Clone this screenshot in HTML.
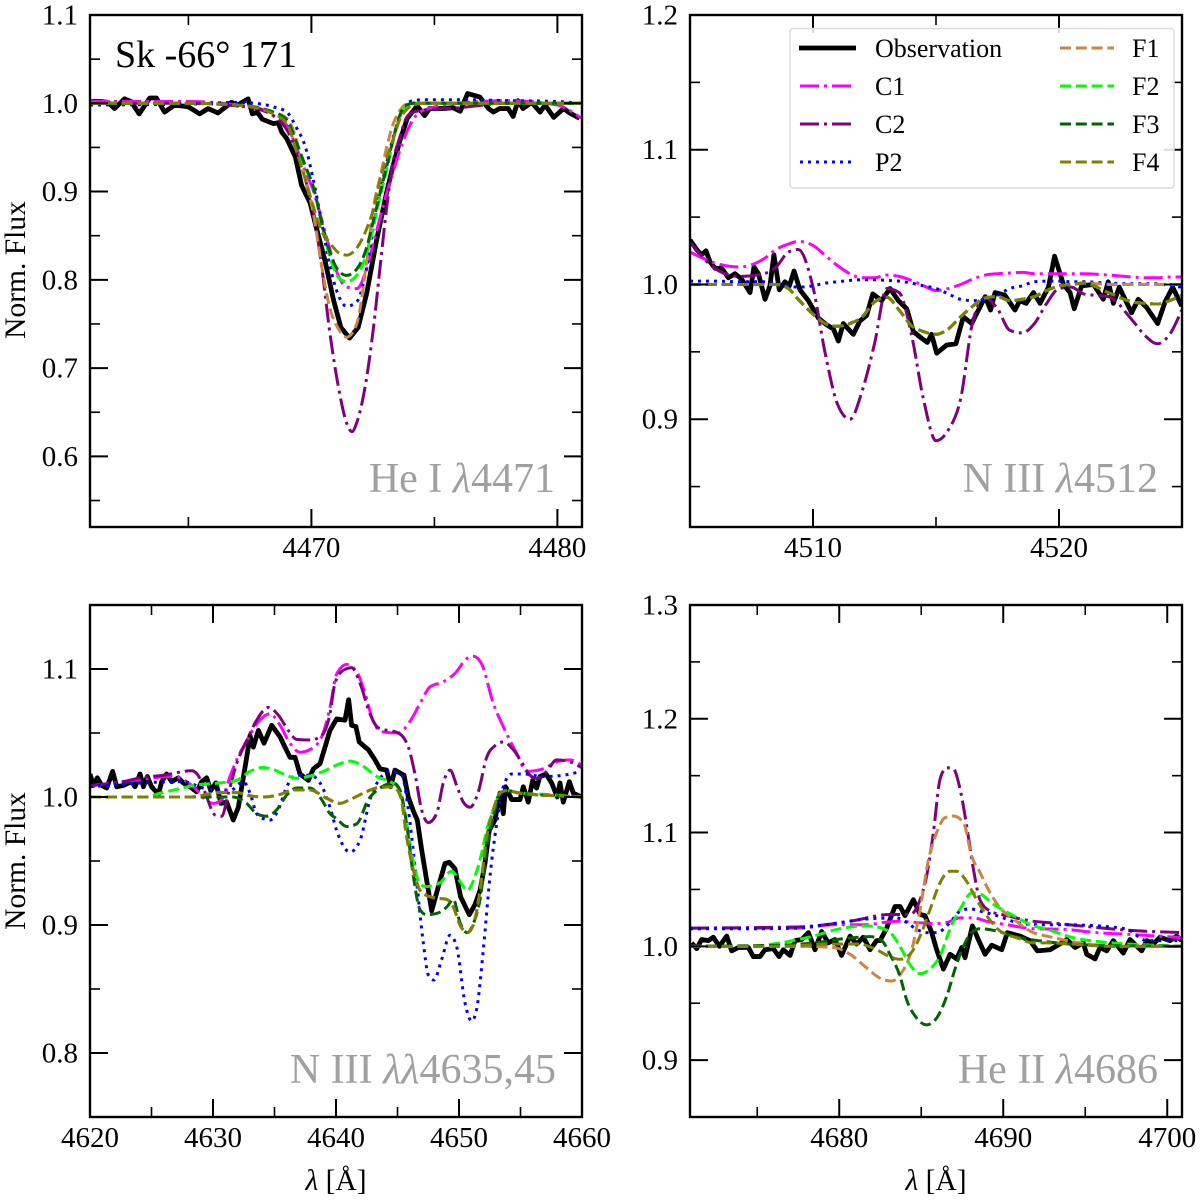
<!DOCTYPE html>
<html>
<head>
<meta charset="utf-8">
<title>Sk -66 171 line profiles</title>
<style>
html,body{margin:0;padding:0;background:#fff;}
svg{display:block;}
text{font-family:"Liberation Serif","DejaVu Serif",serif;fill:#000;}
</style>
</head>
<body>
<svg id="chart" xmlns="http://www.w3.org/2000/svg" width="1200" height="1200" viewBox="0 0 1200 1200">
<rect x="0" y="0" width="1200" height="1200" fill="#fff"/>
<defs>
<clipPath id="clip-a"><rect x="90" y="15" width="492" height="512"/></clipPath>
<clipPath id="clip-b"><rect x="690" y="15" width="492" height="512"/></clipPath>
<clipPath id="clip-c"><rect x="90" y="605" width="492" height="512"/></clipPath>
<clipPath id="clip-d"><rect x="690" y="605" width="492" height="512"/></clipPath>
</defs>
<g id="layer-panels"></g>
<text x="115" y="67" font-size="38">Sk -66° 171</text>
<text x="555" y="492" font-size="42" text-anchor="end" style="fill:#a0a0a0">He I <tspan font-style="italic" style="fill:#a0a0a0">λ</tspan>4471</text>
<text x="1158" y="492" font-size="42" text-anchor="end" style="fill:#a0a0a0">N III <tspan font-style="italic" style="fill:#a0a0a0">λ</tspan>4512</text>
<text x="556" y="1083" font-size="42" text-anchor="end" style="fill:#a0a0a0">N III <tspan font-style="italic" style="fill:#a0a0a0">λλ</tspan>4635,45</text>
<text x="1158" y="1083" font-size="42" text-anchor="end" style="fill:#a0a0a0">He II <tspan font-style="italic" style="fill:#a0a0a0">λ</tspan>4686</text>
<text transform="translate(25,270) rotate(-90)" font-size="29.5" text-anchor="middle">Norm. Flux</text>
<text transform="translate(25,861) rotate(-90)" font-size="29.5" text-anchor="middle">Norm. Flux</text>
<text x="336" y="1190" font-size="29.5" text-anchor="middle"><tspan font-style="italic">λ</tspan> [Å]</text>
<text x="936" y="1190" font-size="29.5" text-anchor="middle"><tspan font-style="italic">λ</tspan> [Å]</text>
<g>
<rect x="790" y="28.5" width="384" height="159.5" rx="3" fill="#fff" fill-opacity="0.85" stroke="#dcdcdc" stroke-width="1.5"/>
<g><line x1="799" x2="856" y1="48" y2="48" stroke="#000" stroke-width="4.8"/><text x="875" y="57" font-size="26">Observation</text></g>
<g><line x1="800" x2="854" y1="86" y2="86" stroke="#ff00ff" stroke-width="3" stroke-dasharray="19 5 3 5"/><text x="875" y="95" font-size="26">C1</text></g>
<g><line x1="800" x2="854" y1="124" y2="124" stroke="#800080" stroke-width="3" stroke-dasharray="19 5 3 5"/><text x="875" y="133" font-size="26">C2</text></g>
<g><line x1="800" x2="854" y1="162" y2="162" stroke="#0000ff" stroke-width="3" stroke-dasharray="3 5"/><text x="875" y="171" font-size="26">P2</text></g>
<g><line x1="1060" x2="1114" y1="48" y2="48" stroke="#cd853f" stroke-width="3" stroke-dasharray="11 4.8"/><text x="1132" y="57" font-size="26">F1</text></g>
<g><line x1="1060" x2="1114" y1="86" y2="86" stroke="#00ff00" stroke-width="3" stroke-dasharray="11 4.8"/><text x="1132" y="95" font-size="26">F2</text></g>
<g><line x1="1060" x2="1114" y1="124" y2="124" stroke="#006400" stroke-width="3" stroke-dasharray="11 4.8"/><text x="1132" y="133" font-size="26">F3</text></g>
<g><line x1="1060" x2="1114" y1="162" y2="162" stroke="#808000" stroke-width="3" stroke-dasharray="11 4.8"/><text x="1132" y="171" font-size="26">F4</text></g>
</g>
</svg>
<script>
// ---------- Panel A: He I 4471 ----------
const heiObsWave = [4461.05,4461.45,4461.73,4462.0,4462.4,4462.67,4463.0,4463.43,4463.7,4464.03,4464.44,4465.0,4465.46,4465.8,4466.2,4466.75,4467.0,4467.43,4467.6,4467.8,4468.0,4468.45,4468.65,4468.8,4469.0,4469.35,4469.6,4469.95,4470.2,4470.55,4470.9,4471.2,4471.55,4471.9,4472.25,4472.65,4473.05,4473.3,4473.6,4473.9,4474.3,4474.6,4474.8,4475.35,4475.75,4476.05,4476.35,4476.85,4477.2,4477.4,4477.65,4478.0,4478.2,4478.4,4478.6,4478.95,4479.3,4479.5,4479.85,4480.25,4480.5,4480.9];
const heiObsFlux = [1.002,1.002,1.001,0.994,1.005,1.002,0.988,1.006,1.006,0.990,0.998,0.996,0.988,0.994,0.989,1.001,0.998,1.005,0.988,0.990,0.982,0.977,0.978,0.967,0.960,0.939,0.907,0.887,0.859,0.822,0.777,0.746,0.734,0.746,0.785,0.845,0.898,0.927,0.958,0.983,0.997,0.986,0.994,0.994,0.995,0.991,1.011,1.007,0.994,0.990,0.994,0.994,0.985,1.003,0.994,1.001,0.990,0.998,0.984,0.994,0.989,0.983];
const heiModelWave = [4461,4465,4467,4468,4468.45,4469,4469.4,4469.74,4470.08,4470.42,4470.75,4471.09,4471.43,4471.84,4472.25,4472.52,4472.79,4473.06,4473.33,4473.6,4473.87,4474.14,4474.55,4476,4478,4480,4481];
const heiC2Wave = [4461,4465,4467,4468,4468.45,4469,4469.4,4469.74,4470.08,4470.42,4470.75,4471.09,4471.43,4471.65,4471.84,4472.25,4472.52,4472.79,4473.06,4473.33,4473.6,4473.87,4474.14,4474.55,4476,4478,4480,4481];
const heiC1 = [1.002,1.002,0.998,0.993,0.986,0.975,0.949,0.924,0.901,0.868,0.835,0.805,0.792,0.79,0.813,0.842,0.87,0.898,0.923,0.947,0.967,0.982,0.992,1.0,1.003,0.998,0.983];
const heiC2 = [1.0,1.0,0.997,0.992,0.986,0.97,0.945,0.915,0.877,0.815,0.74,0.68,0.638,0.628,0.638,0.69,0.745,0.814,0.882,0.935,0.962,0.984,0.99,0.992,0.995,1.0,1.0,1.0];
const heiP2 = [0.998,0.999,1.001,0.999,0.996,0.99,0.972,0.952,0.913,0.865,0.816,0.783,0.77,0.775,0.814,0.86,0.898,0.932,0.962,0.985,0.999,1.003,1.004,1.004,1.003,1.002,1.0];
const heiF1 = [1.0,1.0,0.998,0.994,0.99,0.983,0.958,0.915,0.875,0.815,0.768,0.745,0.735,0.75,0.822,0.882,0.916,0.95,0.977,0.992,0.999,1.0,1.0,1.0,1.0,1.0,1.0];
const heiF2 = [1,1,0.998,0.994,0.99,0.981,0.954,0.928,0.905,0.864,0.826,0.803,0.798,0.805,0.83,0.86,0.894,0.924,0.958,0.985,0.998,1,1,1,1,1,1];
const heiF3 = [1,1,0.998,0.994,0.99,0.981,0.955,0.93,0.905,0.865,0.831,0.811,0.805,0.812,0.837,0.867,0.898,0.928,0.96,0.987,0.998,1,1,1,1,1,1];
const heiF4 = [1,1,0.998,0.993,0.988,0.977,0.945,0.915,0.883,0.855,0.842,0.831,0.828,0.836,0.858,0.88,0.913,0.938,0.96,0.982,0.993,0.998,1,1,1,1,1];
const heiXMajor = [4470,4480];
const heiXMinor = [4465,4475];
const heiYMajor = [0.6,0.7,0.8,0.9,1.0,1.1];
const heiYMinor = [0.55,0.65,0.75,0.85,0.95,1.05];
const heiXRange = [4461,4481];
const heiYRange = [0.52,1.1];

// ---------- Panel B: N III 4512 ----------
const n3aObsWave = [4505,4505.27,4505.47,4505.65,4505.81,4506.02,4506.29,4506.56,4506.83,4507.1,4507.44,4507.6,4507.78,4508.05,4508.25,4508.41,4508.63,4508.86,4509.04,4509.23,4509.47,4509.81,4510.22,4510.56,4510.83,4511.03,4511.23,4511.64,4511.91,4512.18,4512.43,4512.79,4513.13,4513.47,4513.81,4514.08,4514.35,4514.65,4514.82,4515.03,4515.43,4515.81,4516.11,4516.45,4517.0,4517.22,4517.4,4517.8,4518.21,4518.41,4518.66,4518.96,4519.23,4519.57,4519.82,4520.18,4520.45,4520.62,4520.92,4521.4,4521.8,4522.0,4522.21,4522.45,4522.95,4523.22,4523.56,4524.01,4524.31,4524.62,4524.99];
const n3aObsFlux = [1.033,1.026,1.022,1.025,1.017,1.012,1.012,1.005,1.008,1.004,0.994,1.013,1.008,0.989,0.999,1.022,0.996,1.002,0.999,1.01,0.996,0.988,0.975,0.97,0.967,0.958,0.971,0.963,0.973,0.977,0.993,0.988,0.997,0.988,0.982,0.965,0.961,0.957,0.963,0.949,0.955,0.956,0.976,0.971,0.991,0.981,0.994,0.992,0.981,0.988,0.986,0.994,0.986,0.998,1.021,1.0,0.994,0.982,0.999,1.0,0.989,1.002,0.986,0.998,0.979,0.989,0.983,0.971,0.987,0.998,0.984];
const n3aModelWave = [4505,4506,4507,4508,4508.5,4509,4509.4,4510,4510.5,4511,4511.5,4512,4512.5,4513,4513.5,4514,4514.5,4515,4515.5,4516,4516.5,4517,4517.5,4518,4518.5,4519,4519.5,4520,4520.5,4521,4522,4523,4523.5,4524,4524.5,4525];
const n3aC1 = [1.024,1.016,1.013,1.019,1.026,1.03,1.032,1.029,1.0215,1.014,1.008,1.005,1.005,1.007,1.006,1.003,0.999,0.9955,0.997,1.0,1.004,1.007,1.008,1.0085,1.009,1.008,1.008,1.008,1.008,1.008,1.007,1.0055,1.005,1.005,1.0055,1.0055];
const n3aC2 = [1.031,1.012,1.006,1.008,1.013,1.024,1.026,0.998,0.9485,0.911,0.9,0.921,0.956,0.997,0.994,0.963,0.914,0.884,0.892,0.915,0.973,0.99,0.982,0.966,0.964,0.971,0.986,0.997,0.998,0.993,0.991,0.973,0.962,0.956,0.963,0.981];
const n3aP2 = [1.0025,1.0025,1.002,1.002,1.0005,0.999,0.998,0.999,1.001,1.002,1.003,1.0035,1.0035,1.003,1.0025,1.001,0.999,0.997,0.993,0.989,0.988,0.989,0.992,0.997,0.999,1.002,1.0025,1.0025,1.002,1.002,1.001,1.0005,1.0005,1.0005,0.999,0.998];
const n3aF1 = [1,1,1,1,1,0.997,0.989,0.978,0.971,0.969,0.971,0.976,0.987,0.9905,0.981,0.9695,0.965,0.963,0.967,0.976,0.984,0.99,0.991,0.988,0.989,0.991,0.9955,0.999,1,1.001,1,1,1,1,1,1];
const n3aF2 = [1,1,1,1,1,0.997,0.989,0.978,0.971,0.969,0.971,0.976,0.987,0.9905,0.981,0.9695,0.965,0.963,0.967,0.976,0.984,0.99,0.991,0.988,0.989,0.991,0.9955,0.999,1,1.001,0.994,0.987,0.986,0.9855,0.988,0.992];
const n3aF3 = [1,1,1,1,1,0.997,0.989,0.978,0.971,0.969,0.971,0.976,0.987,0.9905,0.981,0.9695,0.965,0.963,0.967,0.976,0.984,0.99,0.991,0.988,0.989,0.991,0.9955,0.999,1,1.001,0.994,0.987,0.986,0.9855,0.988,0.992];
const n3aF4 = [1,1,1,1,1,0.997,0.989,0.978,0.971,0.969,0.971,0.976,0.987,0.9905,0.981,0.9695,0.965,0.963,0.967,0.976,0.984,0.99,0.991,0.988,0.989,0.991,0.9955,0.999,1,1.001,0.994,0.987,0.986,0.9855,0.988,0.992];
const n3aXMajor = [4510,4520];
const n3aXMinor = [4505,4515,4525];
const n3aYMajor = [0.9,1.0,1.1,1.2];
const n3aYMinor = [0.85,0.95,1.05,1.15];
const n3aXRange = [4505,4525];
const n3aYRange = [0.82,1.2];

// ---------- Panel C: N III 4635,45 ----------
const n3bObsWave = [4620,4620.27,4620.6,4620.95,4621.36,4621.84,4622.17,4622.71,4623.39,4623.66,4624.07,4624.34,4624.66,4625.01,4625.56,4625.83,4626.23,4626.64,4627.18,4627.59,4628.13,4628.67,4629.08,4629.49,4629.81,4630.24,4630.65,4631.11,4631.65,4632.06,4632.41,4632.74,4633.01,4633.28,4633.69,4634.15,4634.77,4635.45,4635.85,4636.26,4636.67,4637.07,4637.75,4638.16,4638.7,4639.11,4639.51,4640.05,4640.73,4641.03,4641.27,4641.62,4641.89,4642.36,4642.63,4643.17,4643.58,4644.12,4644.44,4644.79,4645.53,4645.88,4646.29,4646.61,4646.96,4647.37,4647.78,4648.32,4648.86,4649.21,4649.67,4650.13,4650.84,4651.3,4651.71,4652.11,4652.46,4652.92,4653.33,4653.6,4653.79,4654.28,4654.96,4655.23,4655.63,4655.99,4656.31,4656.58,4657.07,4657.53,4657.99,4658.21,4658.48,4658.97,4659.29,4659.97];
const n3bObsFlux = [1.018,1.009,1.015,1.009,1.007,1.02,1.008,1.009,1.012,1.008,1.018,1.008,1.016,1.008,1.002,1.012,1.018,1.012,1.015,1.011,1.008,1.004,1.012,1.015,1.005,1.011,0.995,0.996,0.982,0.992,1.012,1.031,1.048,1.039,1.052,1.042,1.056,1.047,1.039,1.031,1.031,1.018,1.013,1.022,1.026,1.039,1.052,1.061,1.06,1.076,1.056,1.055,1.043,1.039,1.037,1.029,1.022,1.021,1.008,1.021,1.017,1.0,0.989,0.982,0.959,0.935,0.911,0.93,0.948,0.949,0.944,0.922,0.908,0.916,0.927,0.948,0.974,0.982,1.003,0.987,1.008,0.998,0.998,1.008,0.996,1.013,1.007,1.016,1.018,1.011,1.0,1.011,0.996,1.012,1.003,1.0];
const n3bC1Wave = [4620,4622.71,4626.78,4627.86,4628.67,4629.35,4630.03,4630.7,4631.38,4631.92,4632.74,4633.55,4634.63,4635.45,4636.26,4637.07,4637.89,4638.83,4639.51,4640.05,4640.87,4641.68,4642.36,4643.03,4643.71,4645.07,4646.01,4646.83,4647.64,4648.72,4649.67,4650.62,4651.16,4651.84,4652.79,4653.6,4654.69,4655.5,4656.85,4657.94,4659.02,4659.97];
const n3bC1Flux = [1.0086,1.012,1.016,1.012,1.0055,0.998,0.995,0.998,1.016,1.029,1.044,1.057,1.065,1.056,1.042,1.035,1.037,1.047,1.07,1.096,1.1035,1.098,1.081,1.059,1.051,1.05,1.059,1.073,1.086,1.09,1.0965,1.108,1.11,1.104,1.073,1.055,1.034,1.02,1.022,1.0275,1.029,1.025];
const n3bC2Wave = [4620,4622.71,4624.07,4625.96,4628.27,4628.94,4629.49,4630.16,4630.7,4631.25,4631.92,4632.74,4633.55,4634.5,4635.31,4636.12,4636.8,4637.89,4638.83,4639.51,4639.92,4640.59,4641.27,4641.95,4642.76,4643.44,4645.07,4645.88,4646.42,4646.96,4647.5,4648.18,4648.72,4649.27,4649.81,4650.35,4650.89,4651.57,4652.25,4652.92,4653.6,4654.41,4655.23,4655.77,4656.31,4657.12,4657.94,4659.02,4659.97];
const n3bC2Flux = [1.009,1.012,1.015,1.017,1.0205,1.0145,1.0,0.986,0.985,1.003,1.026,1.044,1.06,1.07,1.064,1.052,1.045,1.0445,1.048,1.065,1.089,1.099,1.101,1.089,1.065,1.054,1.05,1.039,1.018,0.99,0.98,0.987,1.011,1.021,1.009,0.996,0.992,1.004,1.031,1.04,1.043,1.037,1.025,1.017,1.0145,1.02,1.029,1.0275,1.023];
const n3bP2Wave = [4620,4624.07,4627.59,4629.21,4631.38,4632.47,4633.01,4633.55,4634.09,4634.63,4635.31,4635.99,4636.8,4637.89,4638.7,4639.51,4640.05,4641.14,4641.95,4642.76,4643.58,4644.39,4645.34,4645.88,4646.42,4647.1,4647.5,4647.96,4648.59,4649.27,4649.81,4650.49,4651.03,4651.43,4651.98,4652.52,4653.06,4653.6,4654.28,4655.23,4656.85,4658.48,4659.97];
const n3bP2Flux = [1.008,1.011,1.012,1.007,1.005,1.012,1.003,0.987,0.983,0.982,0.99,1.008,1.017,1.017,1.011,0.992,0.974,0.957,0.966,0.998,1.0146,1.02,1.017,0.99,0.946,0.886,0.861,0.857,0.873,0.892,0.883,0.839,0.825,0.834,0.881,0.938,0.979,1.008,1.018,1.018,1.016,1.017,1.02];
const n3bF1Wave = [4620,4628.13,4630.57,4631.92,4633.0,4634.09,4635.45,4636.53,4637.89,4639.24,4640.33,4641.14,4642.22,4643.3,4644.66,4645.26,4645.74,4646.29,4646.83,4647.37,4648.18,4649.0,4649.54,4650.08,4650.67,4651.16,4651.71,4652.25,4652.79,4653.33,4653.87,4654.96,4660];
const n3bF1Flux = [1.0,1.0,1.0034,1.0034,1.001,1.0,1.002,1.0055,1.0055,0.999,0.995,0.998,1.003,1.007,1.008,1.0,0.969,0.943,0.927,0.923,0.921,0.92,0.914,0.9,0.894,0.9,0.927,0.969,0.99,1.003,1.005,1.003,1.0];
const n3bF2Wave = [4620,4624.6,4625.69,4627.05,4628.4,4630.57,4631.92,4633.01,4634.09,4634.77,4635.72,4636.8,4637.89,4638.97,4640.33,4641.14,4642.22,4643.3,4644.39,4645.07,4645.61,4646.15,4646.69,4647.23,4648.45,4649.4,4650.08,4650.67,4651.3,4651.84,4652.25,4652.79,4653.33,4653.87,4654.96,4657.12,4660];
const n3bF2Flux = [1.0,1.0,1.003,1.006,1.009,1.011,1.013,1.02,1.023,1.022,1.018,1.0146,1.0164,1.02,1.026,1.028,1.024,1.016,1.012,1.007,0.987,0.956,0.935,0.93,0.933,0.942,0.934,0.927,0.938,0.956,0.974,0.99,1.003,1.005,1.003,1.002,1.0];
const n3bF3Wave = [4620,4629.49,4631.65,4632.74,4633.55,4634.36,4635.18,4635.99,4636.8,4637.89,4638.83,4639.51,4640.05,4640.87,4641.68,4642.63,4643.58,4644.66,4645.2,4645.74,4646.29,4646.83,4647.37,4648.18,4649.0,4649.54,4650.08,4650.67,4651.16,4651.71,4652.25,4652.79,4653.33,4653.87,4654.96,4660];
const n3bF3Flux = [1.0,1.0,1.0,0.995,0.987,0.985,0.99,1.0015,1.007,1.007,0.998,0.987,0.983,0.977,0.979,0.998,1.007,1.011,1.0055,0.979,0.938,0.912,0.908,0.909,0.914,0.92,0.902,0.894,0.901,0.92,0.959,0.985,1.003,1.005,1.003,1.0];
const n3bF4Wave = [4620,4628.13,4630.57,4631.92,4633.0,4634.09,4635.45,4636.53,4637.89,4639.24,4640.33,4641.14,4642.22,4643.3,4644.66,4645.26,4645.74,4646.29,4646.83,4647.37,4648.18,4649.0,4649.54,4650.08,4650.67,4651.16,4651.71,4652.25,4652.79,4653.33,4653.87,4654.96,4660];
const n3bF4Flux = [1.0,1.0,1.0034,1.0034,1.001,1.0,1.002,1.0055,1.0055,0.999,0.995,0.998,1.003,1.007,1.008,1.0,0.969,0.943,0.927,0.923,0.921,0.92,0.914,0.9,0.894,0.9,0.927,0.969,0.99,1.003,1.005,1.003,1.0];
const n3bXMajor = [4620,4630,4640,4650,4660];
const n3bXMinor = [4625,4635,4645,4655];
const n3bYMajor = [0.8,0.9,1.0,1.1];
const n3bYMinor = [0.85,0.95,1.05];
const n3bXRange = [4620,4660];
const n3bYRange = [0.75,1.15];

// ---------- Panel D: He II 4686 ----------
const he2ObsWave = [4671.0,4671.31,4671.61,4672.02,4672.32,4672.69,4673.14,4673.44,4673.85,4674.46,4674.76,4675.17,4675.47,4675.98,4676.33,4676.59,4677.0,4677.3,4677.71,4678.12,4678.52,4678.93,4679.33,4679.74,4680.14,4680.66,4681.06,4681.47,4681.88,4682.28,4682.49,4682.89,4683.4,4683.71,4684.01,4684.52,4684.93,4685.23,4685.64,4685.94,4686.35,4686.76,4687.16,4687.47,4687.67,4688.12,4688.48,4688.89,4689.3,4689.91,4690.25,4691.02,4691.63,4692.08,4692.85,4693.56,4693.87,4694.38,4694.88,4695.09,4695.6,4695.9,4696.31,4696.71,4697.32,4697.73,4698.44,4698.75,4699.15,4699.56,4700.17,4700.57,4700.88];
const he2ObsFlux = [1.003,0.998,1.006,1.005,1.008,1.0,1.009,0.996,0.999,0.999,0.991,0.991,0.997,0.998,0.991,0.997,0.992,1.005,1.006,1.012,0.997,1.013,1.003,1.006,0.992,1.009,1.002,1.008,0.997,1.005,1.005,1.016,1.035,1.035,1.027,1.041,1.028,1.027,1.012,0.997,0.98,0.993,0.989,0.999,0.99,1.018,1.006,0.993,1.001,0.997,1.012,1.009,1.005,0.996,0.997,1.003,1.006,0.999,1.003,0.993,0.989,0.999,0.996,1.005,0.994,1.006,0.996,1.005,1.002,1.008,1.005,1.009,1.005];
const he2C1Wave = [4670.9,4673.34,4675.37,4677.4,4679.64,4681.68,4682.69,4683.6,4684.72,4685.74,4686.55,4687.37,4688.18,4689.0,4690.21,4691.84,4693.66,4695.7,4697.73,4701];
const he2C1Flux = [1.016,1.016,1.016,1.016,1.019,1.019,1.021,1.022,1.021,1.02,1.021,1.025,1.025,1.022,1.019,1.0155,1.015,1.012,1.0105,1.0076];
const he2C2Wave = [4670.9,4677.4,4680.66,4683.1,4684.32,4684.93,4685.33,4685.74,4686.15,4686.55,4686.96,4687.37,4687.77,4688.18,4688.58,4689.2,4690.21,4691.84,4692.65,4694.68,4697.73,4701];
const he2C2Flux = [1.016,1.017,1.022,1.028,1.028,1.041,1.062,1.1,1.147,1.157,1.156,1.138,1.106,1.068,1.041,1.031,1.027,1.022,1.021,1.018,1.014,1.012];
const he2P2Wave = [4670.9,4675,4677.4,4679.64,4681.68,4683.5,4684.11,4684.72,4685.33,4685.94,4686.76,4687.37,4687.97,4688.58,4689.6,4690.82,4692.04,4693.66,4695.7,4697.53,4698.75,4701];
const he2P2Flux = [1.0155,1.0155,1.016,1.02,1.024,1.025,1.021,1.015,1.012,1.012,1.021,1.031,1.033,1.031,1.027,1.021,1.019,1.019,1.018,1.015,1.005,1.005];
const he2F1Wave = [4670.9,4677.4,4679.64,4680.66,4681.68,4682.49,4683.2,4683.81,4684.42,4684.93,4685.44,4685.94,4686.45,4686.96,4687.57,4688.08,4688.58,4689.09,4689.8,4690.62,4691.84,4692.65,4694.68,4696.71,4701];
const he2F1Flux = [1.0,1.0,0.999,0.993,0.981,0.972,0.9695,0.977,0.997,1.0325,1.076,1.1,1.113,1.1145,1.109,1.079,1.065,1.05,1.034,1.024,1.012,1.009,1.003,1.0,1.0];
const he2F2Wave = [4670.9,4674.5,4676.39,4678.42,4680.05,4681.67,4682.69,4683.3,4683.7,4684.31,4684.92,4685.53,4686.14,4686.75,4687.5,4688.08,4688.58,4689.4,4690.62,4691.84,4692.65,4694.27,4695.9,4697.73,4701];
const he2F2Flux = [1.0,1.0,1.003,1.009,1.0155,1.018,1.0155,1.009,1.0,0.984,0.976,0.98,0.9915,1.015,1.036,1.047,1.046,1.037,1.027,1.018,1.015,1.0076,1.004,1.002,1.0];
const he2F3Wave = [4670.9,4676.39,4678.42,4680.45,4681.88,4682.59,4683.09,4683.7,4684.11,4684.72,4685.33,4685.94,4686.55,4687.06,4687.57,4688.18,4688.58,4689.6,4690.62,4692.65,4695.7,4701];
const he2F3Flux = [1.0,1.001,1.003,1.007,1.0085,1.005,0.993,0.974,0.953,0.937,0.931,0.937,0.956,0.98,1.0,1.0135,1.0155,1.0135,1.009,1.004,1.001,1.0];
const he2F4Wave = [4670.9,4676.39,4679.44,4681.2,4682.28,4683.0,4683.7,4684.31,4684.93,4685.54,4686.15,4686.76,4687.16,4687.77,4688.38,4688.99,4689.8,4690.82,4691.84,4692.65,4696.71,4701];
const he2F4Flux = [1.0,1.0,1.002,1.002,0.997,0.9915,0.9886,0.993,1.009,1.0325,1.056,1.066,1.066,1.057,1.041,1.027,1.0135,1.0076,1.003,1.003,1.0,1.0];
const he2XMajor = [4680,4690,4700];
const he2XMinor = [4675,4685,4695];
const he2YMajor = [0.9,1.0,1.1,1.2,1.3];
const he2YMinor = [0.95,1.05,1.15,1.25];
const he2XRange = [4670.9,4700.9];
const he2YRange = [0.85,1.3];

const NS = 'http://www.w3.org/2000/svg';
const layer = document.getElementById('layer-panels');

const STYLES = {
  obs: {color:'#000000', width:4.8, dash:'none'},
  c1:  {color:'#ff00ff', width:3, dash:'19 5 3 5'},
  c2:  {color:'#800080', width:3, dash:'19 5 3 5'},
  p2:  {color:'#0000ff', width:3, dash:'3 5'},
  f1:  {color:'#cd853f', width:3, dash:'11 4.8'},
  f2:  {color:'#00ff00', width:3, dash:'11 4.8'},
  f3:  {color:'#006400', width:3, dash:'11 4.8'},
  f4:  {color:'#808000', width:3, dash:'11 4.8'}
};

// d3-style monotone cubic through model knots
function monotonePath(xs, ys) {
  const n = xs.length;
  const m = [];
  const d = [];
  for (let i = 0; i < n - 1; i++) d.push((ys[i + 1] - ys[i]) / (xs[i + 1] - xs[i]));
  m[0] = d[0];
  for (let i = 1; i < n - 1; i++) {
    if (d[i - 1] * d[i] <= 0) { m[i] = 0; }
    else {
      const h0 = xs[i] - xs[i - 1];
      const h1 = xs[i + 1] - xs[i];
      const p = (d[i - 1] * h1 + d[i] * h0) / (h0 + h1);
      m[i] = Math.sign(d[i]) * Math.min(Math.abs(d[i - 1]), Math.abs(d[i])) * Math.min(2, Math.abs(p) / Math.min(Math.abs(d[i - 1]), Math.abs(d[i])));
    }
  }
  m[n - 1] = d[n - 2];
  let s = 'M' + xs[0].toFixed(2) + ' ' + ys[0].toFixed(2);
  for (let i = 0; i < n - 1; i++) {
    const h = (xs[i + 1] - xs[i]) / 3;
    s += 'C' + (xs[i] + h).toFixed(2) + ' ' + (ys[i] + h * m[i]).toFixed(2) + ' ' +
         (xs[i + 1] - h).toFixed(2) + ' ' + (ys[i + 1] - h * m[i + 1]).toFixed(2) + ' ' +
         xs[i + 1].toFixed(2) + ' ' + ys[i + 1].toFixed(2);
  }
  return s;
}
function polyPath(xs, ys) {
  let s = '';
  for (let i = 0; i < xs.length; i++) s += (i ? 'L' : 'M') + xs[i].toFixed(2) + ' ' + ys[i].toFixed(2);
  return s;
}

function drawPanel(cfg) {
  const g = document.createElementNS(NS, 'g');
  
  
  layer.appendChild(g);
  const sx = v => cfg.left + (v - cfg.xRange[0]) / (cfg.xRange[1] - cfg.xRange[0]) * 492;
  const sy = v => cfg.top + 512 - (v - cfg.yRange[0]) / (cfg.yRange[1] - cfg.yRange[0]) * 512;

  const plot = document.createElementNS(NS, 'g');
  plot.setAttribute('clip-path', 'url(#' + cfg.clip + ')');
  
  
  g.appendChild(plot);

  cfg.series.forEach(function (s) {
    const st = STYLES[s.key];
    const p = document.createElementNS(NS, 'path');
    const xs = s.wave.map(sx);
    const ys = s.flux.map(sy);
    p.setAttribute('d', s.key === 'obs' ? polyPath(xs, ys) : monotonePath(xs, ys));
    p.setAttribute('fill', 'none');
    p.setAttribute('stroke', st.color);
    p.setAttribute('stroke-width', st.width);
    p.setAttribute('stroke-linejoin', 'round');
    if (st.dash !== 'none') p.setAttribute('stroke-dasharray', st.dash);
    
    
    plot.appendChild(p);
  });

  function tick(x1, y1, x2, y2, w, label) {
    const l = document.createElementNS(NS, 'line');
    l.setAttribute('x1', x1);
    l.setAttribute('y1', y1);
    l.setAttribute('x2', x2);
    l.setAttribute('y2', y2);
    l.setAttribute('stroke', '#000');
    l.setAttribute('stroke-width', w);
    
    
    g.appendChild(l);
  }
  const L = cfg.left, R = cfg.left + 492, T = cfg.top, B = cfg.top + 512;
  cfg.xMajor.forEach(function (v) {
    const x = sx(v);
    tick(x, B, x, B - 18, 2, 'x-major-tick');
    tick(x, T, x, T + 18, 2, 'x-major-tick-top');
    const t = document.createElementNS(NS, 'text');
    t.setAttribute('x', x);
    t.setAttribute('y', B + 30);
    t.setAttribute('font-size', '29');
    t.setAttribute('text-anchor', 'middle');
    
    
    t.textContent = String(v);
    g.appendChild(t);
  });
  cfg.xMinor.forEach(function (v) {
    const x = sx(v);
    tick(x, B, x, B - 10, 1.6, 'x-minor-tick');
    tick(x, T, x, T + 10, 1.6, 'x-minor-tick-top');
  });
  cfg.yMajor.forEach(function (v) {
    const y = sy(v);
    tick(L, y, L + 18, y, 2, 'y-major-tick');
    tick(R, y, R - 18, y, 2, 'y-major-tick-right');
    const t = document.createElementNS(NS, 'text');
    t.setAttribute('x', L - 12);
    t.setAttribute('y', y + 9.5);
    t.setAttribute('font-size', '29');
    t.setAttribute('text-anchor', 'end');
    
    
    t.textContent = v.toFixed(1);
    g.appendChild(t);
  });
  cfg.yMinor.forEach(function (v) {
    const y = sy(v);
    tick(L, y, L + 10, y, 1.6, 'y-minor-tick');
    tick(R, y, R - 10, y, 1.6, 'y-minor-tick-right');
  });
  const frame = document.createElementNS(NS, 'rect');
  frame.setAttribute('x', L);
  frame.setAttribute('y', T);
  frame.setAttribute('width', 492);
  frame.setAttribute('height', 512);
  frame.setAttribute('fill', 'none');
  frame.setAttribute('stroke', '#000');
  frame.setAttribute('stroke-width', '2.4');
  
  
  g.appendChild(frame);
}

drawPanel({name:'panel-he-i-4471', clip:'clip-a', left:90, top:15, xRange:heiXRange, yRange:heiYRange,
  xMajor:heiXMajor, xMinor:heiXMinor, yMajor:heiYMajor, yMinor:heiYMinor,
  series:[
    {key:'obs', wave:heiObsWave, flux:heiObsFlux},
    {key:'c1', wave:heiModelWave, flux:heiC1},
    {key:'c2', wave:heiC2Wave, flux:heiC2},
    {key:'p2', wave:heiModelWave, flux:heiP2},
    {key:'f1', wave:heiModelWave, flux:heiF1},
    {key:'f2', wave:heiModelWave, flux:heiF2},
    {key:'f3', wave:heiModelWave, flux:heiF3},
    {key:'f4', wave:heiModelWave, flux:heiF4}
  ]});
drawPanel({name:'panel-n-iii-4512', clip:'clip-b', left:690, top:15, xRange:n3aXRange, yRange:n3aYRange,
  xMajor:n3aXMajor, xMinor:n3aXMinor, yMajor:n3aYMajor, yMinor:n3aYMinor,
  series:[
    {key:'obs', wave:n3aObsWave, flux:n3aObsFlux},
    {key:'c1', wave:n3aModelWave, flux:n3aC1},
    {key:'c2', wave:n3aModelWave, flux:n3aC2},
    {key:'p2', wave:n3aModelWave, flux:n3aP2},
    {key:'f1', wave:n3aModelWave, flux:n3aF1},
    {key:'f2', wave:n3aModelWave, flux:n3aF2},
    {key:'f3', wave:n3aModelWave, flux:n3aF3},
    {key:'f4', wave:n3aModelWave, flux:n3aF4}
  ]});
drawPanel({name:'panel-n-iii-4635-45', clip:'clip-c', left:90, top:605, xRange:n3bXRange, yRange:n3bYRange,
  xMajor:n3bXMajor, xMinor:n3bXMinor, yMajor:n3bYMajor, yMinor:n3bYMinor,
  series:[
    {key:'obs', wave:n3bObsWave, flux:n3bObsFlux},
    {key:'c1', wave:n3bC1Wave, flux:n3bC1Flux},
    {key:'c2', wave:n3bC2Wave, flux:n3bC2Flux},
    {key:'p2', wave:n3bP2Wave, flux:n3bP2Flux},
    {key:'f1', wave:n3bF1Wave, flux:n3bF1Flux},
    {key:'f2', wave:n3bF2Wave, flux:n3bF2Flux},
    {key:'f3', wave:n3bF3Wave, flux:n3bF3Flux},
    {key:'f4', wave:n3bF4Wave, flux:n3bF4Flux}
  ]});
drawPanel({name:'panel-he-ii-4686', clip:'clip-d', left:690, top:605, xRange:he2XRange, yRange:he2YRange,
  xMajor:he2XMajor, xMinor:he2XMinor, yMajor:he2YMajor, yMinor:he2YMinor,
  series:[
    {key:'obs', wave:he2ObsWave, flux:he2ObsFlux},
    {key:'c1', wave:he2C1Wave, flux:he2C1Flux},
    {key:'c2', wave:he2C2Wave, flux:he2C2Flux},
    {key:'p2', wave:he2P2Wave, flux:he2P2Flux},
    {key:'f1', wave:he2F1Wave, flux:he2F1Flux},
    {key:'f2', wave:he2F2Wave, flux:he2F2Flux},
    {key:'f3', wave:he2F3Wave, flux:he2F3Flux},
    {key:'f4', wave:he2F4Wave, flux:he2F4Flux}
  ]});
</script>
</body>
</html>
